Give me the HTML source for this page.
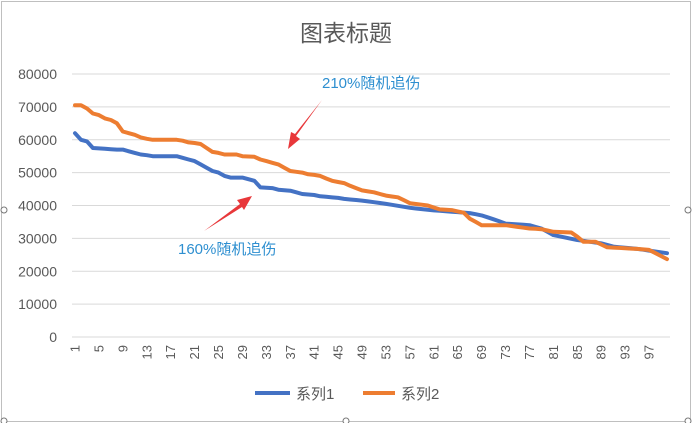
<!DOCTYPE html><html><head><meta charset="utf-8"><style>
body{margin:0;background:#fff;width:692px;height:423px;overflow:hidden;font-family:"Liberation Sans","Noto Sans CJK SC",sans-serif}
</style></head><body>
<svg id="s" width="692" height="423" xmlns="http://www.w3.org/2000/svg" font-family="Liberation Sans, Noto Sans CJK SC, sans-serif">
<rect x="1.5" y="1.5" width="689" height="420" fill="#fff" stroke="#bfbfbf"/>
<text x="346" y="41" text-anchor="middle" font-size="23" fill="#595959">图表标题</text>
<g id="grid"></g>
<g id="lines"></g>
<text x="322" y="88" font-size="15" fill="#2E8FD0">210%随机追伤</text>
<text x="178" y="254" font-size="15" fill="#2E8FD0">160%随机追伤</text>
<polygon points="322,100 296,136 300,139 288,149 291,132 295,134" fill="#E8373A"/>
<polygon points="204,231 240,204 237,200 252,196 244,210 242,207" fill="#E8373A"/>
<line x1="255" y1="393" x2="290" y2="393" stroke="#4472C4" stroke-width="4"/>
<text x="296" y="399" font-size="15" fill="#595959">系列1</text>
<line x1="363" y1="393" x2="395" y2="393" stroke="#ED7D31" stroke-width="4"/>
<text x="401" y="399" font-size="15" fill="#595959">系列2</text>
<circle cx="4" cy="210" r="3" fill="#fff" stroke="#777"/>
<circle cx="688" cy="210" r="3" fill="#fff" stroke="#777"/>
<circle cx="346" cy="421" r="3" fill="#fff" stroke="#777"/>
<circle cx="4" cy="421" r="3" fill="#fff" stroke="#777"/>
<circle cx="688" cy="421" r="3" fill="#fff" stroke="#777"/>
</svg>
<script>
const NS="http://www.w3.org/2000/svg";
const g=document.getElementById('grid'),L=document.getElementById('lines');
function el(t,a,p,txt){const e=document.createElementNS(NS,t);for(const k in a)e.setAttribute(k,a[k]);if(txt!=null)e.textContent=txt;p.appendChild(e);return e;}
const Y=v=>337-v/80000*263, X=i=>75+(i-1)*5.98;
for(let k=0;k<=8;k++){const y=Y(k*10000);el('line',{x1:72,x2:670,y1:y,y2:y,stroke:'#d9d9d9','stroke-width':1},g);
el('text',{x:57,y:y+5,'text-anchor':'end','font-size':14,fill:'#595959'},g,String(k*10000));}
for(let i=1;i<=100;i+=4){const x=X(i);el('text',{transform:`translate(${x+4.5},345) rotate(-90)`,'text-anchor':'end','font-size':13,fill:'#595959'},g,String(i));}
const b=[[1,62000],[2,60000],[3,59500],[4,57500],[8,57000],[9,57000],[10,56500],[11,56000],[12,55500],[13,55300],[14,55000],[18,55000],[19,54500],[20,54000],[21,53500],[22,52500],[23,51500],[24,50500],[25,50000],[26,49000],[27,48500],[29,48500],[30,48000],[31,47500],[32,45500],[34,45300],[35,44800],[37,44500],[38,44000],[39,43500],[41,43200],[42,42800],[45,42300],[46,42000],[49,41500],[53,40500],[57,39300],[61,38500],[65,38000],[67,37700],[69,37000],[71,35800],[73,34500],[77,34000],[79,33000],[81,31000],[85,29500],[87,29000],[89,28500],[91,27500],[95,26800],[100,25500]];
const o=[[1,70500],[2,70500],[3,69500],[4,68000],[5,67500],[6,66500],[7,66000],[8,65000],[9,62500],[10,62000],[11,61500],[12,60700],[13,60300],[14,60000],[18,60000],[19,59700],[20,59200],[21,59000],[22,58700],[23,57500],[24,56300],[25,56000],[26,55500],[28,55500],[29,55000],[31,54800],[32,54000],[33,53500],[34,53000],[35,52500],[36,51500],[37,50500],[39,50000],[40,49500],[41,49300],[42,49000],[43,48200],[44,47500],[46,46800],[47,46000],[49,44600],[51,44000],[53,43000],[55,42500],[57,40700],[60,40000],[62,38800],[64,38600],[66,37800],[67,36000],[69,34000],[73,34000],[77,33000],[79,32800],[81,32000],[84,31800],[85,30500],[86,29000],[88,29000],[90,27300],[95,26800],[97,26500],[100,23700]];
function interp(k){const r=[];for(let i=1;i<=100;i++){let j=0;while(j<k.length-1&&k[j+1][0]<i)j++;const a=k[j],c=k[Math.min(j+1,k.length-1)];const t=c[0]==a[0]?0:(i-a[0])/(c[0]-a[0]);r.push(a[1]+(c[1]-a[1])*Math.max(0,Math.min(1,t)));}return r;}
function line(k,col){const v=interp(k);el('polyline',{points:v.map((y,i)=>X(i+1).toFixed(1)+','+Y(y).toFixed(1)).join(' '),fill:'none',stroke:col,'stroke-width':4,'stroke-linejoin':'round','stroke-linecap':'round'},L);}
line(b,'#4472C4');line(o,'#ED7D31');
</script>
</body></html>
